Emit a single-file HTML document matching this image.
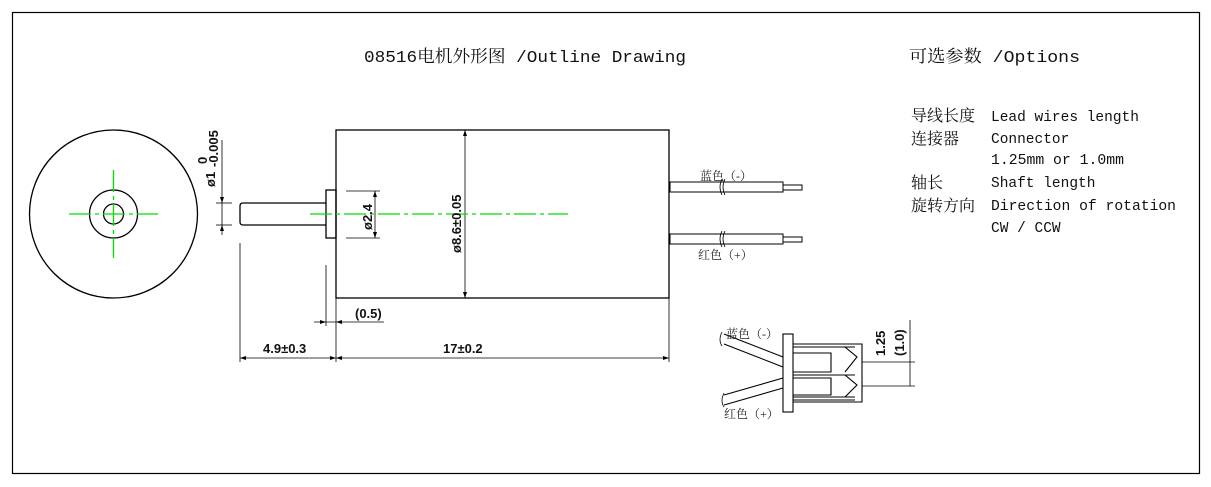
<!DOCTYPE html>
<html><head><meta charset="utf-8"><style>
html,body{margin:0;padding:0;background:#fff;}
svg{display:block;}
text{font-family:"Liberation Mono","Noto Serif CJK SC",monospace;fill:#111;}
.d{font-family:"Liberation Sans Narrow","Liberation Sans",sans-serif;font-weight:bold;font-size:13px;}
.c{font-family:"Liberation Serif","Noto Serif CJK SC",serif;font-size:12px;fill:#222;}
.k{font-family:"Noto Serif CJK SC","Liberation Serif",serif;font-size:16px;}
</style></head><body>
<svg width="1211" height="487" viewBox="0 0 1211 487" xmlns="http://www.w3.org/2000/svg">
<rect x="12.5" y="12.5" width="1187" height="461" fill="none" stroke="#000" stroke-width="1.2"/>
<text x="364" y="62" font-size="17" textLength="322" lengthAdjust="spacingAndGlyphs">08516电机外形图 /Outline Drawing</text>
<text x="909" y="62" font-size="17" textLength="171" lengthAdjust="spacingAndGlyphs">可选参数 /Options</text>
<g class="k">
<text class="k" x="911" y="121">导线长度</text>
<text class="k" x="911" y="144">连接器</text>
<text class="k" x="911" y="188">轴长</text>
<text class="k" x="911" y="211">旋转方向</text>
</g>
<g font-size="14.5">
<text x="991" y="121">Lead wires length</text>
<text x="991" y="143">Connector</text>
<text x="991" y="164" textLength="133" lengthAdjust="spacingAndGlyphs">1.25mm or 1.0mm</text>
<text x="991" y="187">Shaft length</text>
<text x="991" y="210" textLength="185" lengthAdjust="spacingAndGlyphs">Direction of rotation</text>
<text x="991" y="232">CW / CCW</text>
</g>
<g fill="none" stroke="#000" stroke-width="1.3">
<circle cx="113.5" cy="214" r="84"/>
<circle cx="113.5" cy="214" r="24"/>
<circle cx="113.5" cy="214" r="10"/>
</g>
<g stroke="#00e000" stroke-width="1.3" stroke-dasharray="22,4,4,4">
<line x1="69" y1="214" x2="158" y2="214"/>
<line x1="113.5" y1="170" x2="113.5" y2="258"/>
</g>
<g fill="none" stroke="#000" stroke-width="1.3">
<path d="M326 203 H243 Q240 203 240 206 V222 Q240 225 243 225 H326"/>
<rect x="326" y="190" width="10" height="48"/>
<rect x="336" y="130" width="333" height="168"/>
</g>
<g stroke="#000" stroke-width="0.8" fill="none">
<line x1="222" y1="140" x2="222" y2="235"/>
<line x1="216" y1="203" x2="232" y2="203"/><line x1="216" y1="225" x2="232" y2="225"/>
<line x1="346" y1="191" x2="380" y2="191"/><line x1="346" y1="238" x2="380" y2="238"/>
<line x1="375" y1="191" x2="375" y2="238"/>
<line x1="465" y1="130" x2="465" y2="298"/>
<line x1="240" y1="243" x2="240" y2="362"/>
<line x1="336" y1="298" x2="336" y2="362"/>
<line x1="326" y1="265" x2="326" y2="326"/>
<line x1="669" y1="298" x2="669" y2="362"/>
<line x1="314" y1="322" x2="384" y2="322"/>
<line x1="240" y1="358" x2="336" y2="358"/>
<line x1="336" y1="358" x2="669" y2="358"/>
</g>
<g fill="#000">
<path d="M222 203 l-2 -6 h4z M222 225 l-2 6 h4z M375 191 l-2 6 h4z M375 238 l-2 -6 h4z M465 130 l-2 6 h4z M465 298 l-2 -6 h4z M240 358 l6 -2 v4z M336 358 l-6 -2 v4z M336 358 l6 -2 v4z M669 358 l-6 -2 v4z M326 322 l-6 -2 v4z M336 322 l6 -2 v4z"/>
</g>
<line x1="310" y1="214" x2="568" y2="214" stroke="#00e000" stroke-width="1.3" stroke-dasharray="22,4,4,4"/>
<text class="d" transform="translate(215,187) rotate(-90)">ø1</text>
<text class="d" font-size="9" transform="translate(207,164) rotate(-90)">0</text>
<text class="d" font-size="9" transform="translate(218,167) rotate(-90)">-0.005</text>
<text class="d" transform="translate(372,230) rotate(-90)">ø2.4</text>
<text class="d" transform="translate(461,253) rotate(-90)">ø8.6±0.05</text>
<text class="d" x="355" y="318">(0.5)</text>
<text class="d" x="263" y="353">4.9±0.3</text>
<text class="d" x="443" y="353">17±0.2</text>
<g fill="none" stroke="#000" stroke-width="1">
<rect x="670" y="182" width="113" height="10"/>
<rect x="783" y="185" width="19" height="5"/>
<rect x="670" y="234" width="113" height="10"/>
<rect x="783" y="237" width="19" height="5"/>
<path d="M722 179 q-4 8 0 16 M725 179 q-4 8 0 16 M722 231 q-4 8 0 16 M725 231 q-4 8 0 16" stroke-width="0.8"/>
</g>
<text class="c" x="700" y="180">蓝色（-）</text>
<text class="c" x="698" y="259">红色（+）</text>
<g fill="none" stroke="#000" stroke-width="1.1">
<rect x="783" y="334" width="10" height="78"/>
<path d="M793 344 H862 V402 H793 M793 347 H855 M793 397 H855 M793 400 H855"/>
<path d="M793 353 H831 V372 H793 M793 375 H855 M793 378 H831 V395 H793"/>
<path d="M845 347 L857 357 L845 372 M845 375 L857 385 L845 397"/>
<path d="M783 367 L724 344 M783 357 L724 334 M783 378 L724 395 M783 388 L724 405"/>
<path d="M722 332 q-4 8 0 14 M724 393 q-4 8 0 14" stroke-width="0.8"/>
</g>
<g stroke="#000" stroke-width="0.8">
<line x1="862" y1="362" x2="915" y2="362"/><line x1="862" y1="386" x2="915" y2="386"/>
<line x1="910" y1="320" x2="910" y2="386"/>
</g>
<text class="c" x="726" y="338">蓝色（-）</text>
<text class="c" x="724" y="418">红色（+）</text>
<text class="d" transform="translate(885,356) rotate(-90)">1.25</text>
<text class="d" transform="translate(904,356) rotate(-90)">(1.0)</text>
</svg>
</body></html>
